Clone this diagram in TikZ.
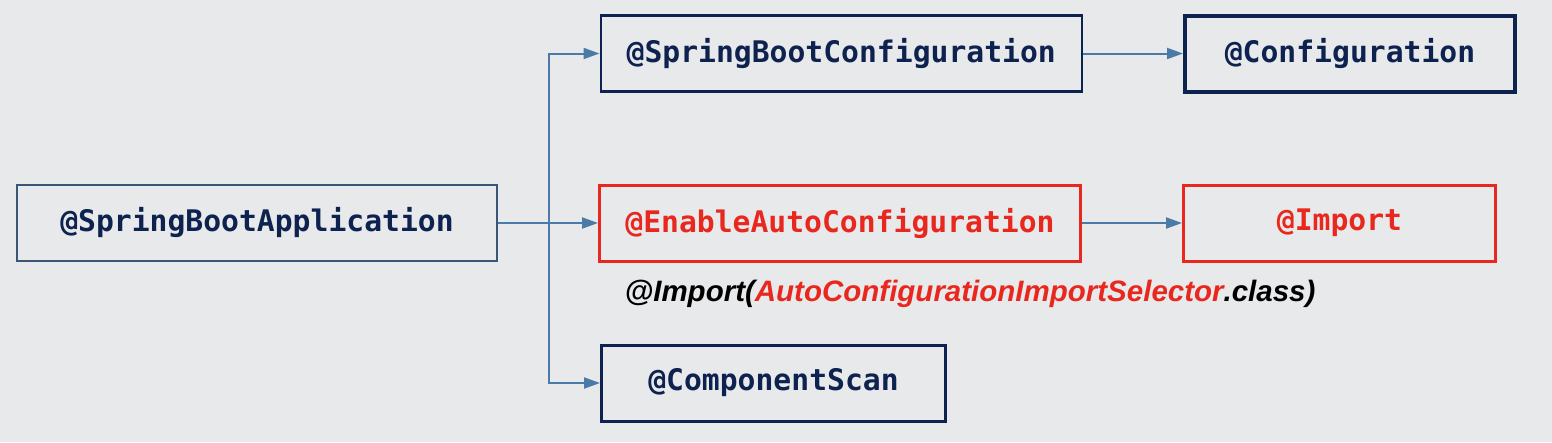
\documentclass[tikz,border=0pt]{standalone}
\usepackage{fontspec}
\usetikzlibrary{arrows.meta, positioning}
\newfontfamily\codefont{DejaVu Sans Mono}
\newfontfamily\notefont{Liberation Sans}
\definecolor{bggray}{HTML}{E8E9EA}
\definecolor{navy}{HTML}{0E2250}
\definecolor{slate}{HTML}{3A5575}
\definecolor{springred}{HTML}{E8281E}
\definecolor{linkblue}{HTML}{4A7AA8}

\begin{document}
\begin{tikzpicture}[x=1pt, y=-1pt,
  node distance=100pt,
  annobox/.style={draw=navy, line width=3pt, fill=bggray, minimum height=76pt, inner sep=0pt, text=navy, font=\codefont\bfseries\fontsize{29.7}{31}\selectfont},
  redbox/.style={annobox, draw=springred, text=springred},
  arrow/.style={-{Triangle[length=16pt, width=11pt]}, draw=linkblue, line width=2pt}
]
  \fill[bggray] (0,0) rectangle (1552,442);
  \useasboundingbox (0,0) rectangle (1552,442);

  \node[annobox, draw=slate, line width=2pt, minimum width=480pt] (app) at (257,223) {@SpringBootApplication};
  \node[redbox, minimum width=481pt, right=of app] (eac) {@EnableAutoConfiguration};
  \node[redbox, minimum width=312pt, right=of eac] (imp) {@Import};
  \node[annobox, line width=2.5pt, minimum width=481pt, anchor=west] (sbconf) at (599.5,53.5) {@SpringBootConfiguration};
  \node[annobox, line width=4pt, minimum width=330pt, right=of sbconf] (conf) {@Configuration};
  \node[annobox, minimum width=344pt, anchor=west] (scan) at (600,383) {@ComponentScan};

  \node[font=\notefont\bfseries\itshape\fontsize{29.5}{31}\selectfont, text=black] (note) at (970,294)
    {@Import(\textcolor{springred}{AutoConfigurationImportSelector}.class)};

  \coordinate (fork) at (549,223);
  \draw[arrow] (app) -- (eac);
  \draw[arrow] (fork) |- (sbconf);
  \draw[arrow] (fork) |- (scan);
  \draw[arrow] (sbconf) -- (conf);
  \draw[arrow] (eac) -- (imp);
\end{tikzpicture}
\end{document}
